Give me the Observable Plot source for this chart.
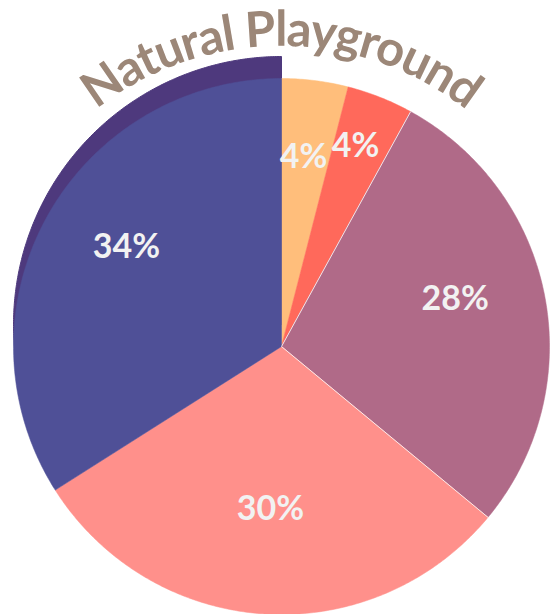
<!DOCTYPE html>
<html><head><meta charset="utf-8">
<script src="https://cdn.jsdelivr.net/npm/d3@7"></script>
<script src="https://cdn.jsdelivr.net/npm/@observablehq/plot@0.6"></script>
<style>html,body{margin:0;padding:0;background:#fff;} svg{display:block;}</style>
</head><body><div id="chart"></div>
<script>
const title = "Natural Playground";
const categories = ["Slice A", "Slice B", "Slice C", "Slice D", "Slice E"];
const values = [4, 4, 28, 30, 34];
const labels = ["4%", "4%", "28%", "30%", "34%"];
const colors = ["#ffbe7b", "#ff695b", "#b06a88", "#ff908b", "#4f5097"];
const shadowColor = "#4e397d";
const raisedCategory = "Slice E";

const W = 555, H = 614, cx = 281, cy = 346, R = 268;
const labelR = 0.66, labelPush = 0.09, titleR = 1.12;

const rows = categories.map((c, i) => ({name: c, value: values[i], label: labels[i], color: colors[i]}));
const arcs = d3.pie().sort(null).value(d => d.value)(rows);

function arcPoints(a0, a1) {
  const pts = [[0, 0]];
  const n = Math.max(2, Math.ceil((a1 - a0) / (Math.PI / 360)));
  for (let k = 0; k <= n; k++) {
    const t = a0 + (a1 - a0) * k / n;
    pts.push([Math.sin(t), Math.cos(t)]);
  }
  pts.push([0, 0]);
  return pts;
}

// label positions with simple collision push
const labelData = [];
arcs.forEach((a, i) => {
  const m = (a.startAngle + a.endAngle) / 2;
  let r = labelR;
  let p = [r * Math.sin(m), r * Math.cos(m)];
  const prev = labelData[labelData.length - 1];
  if (prev && Math.hypot(prev.x - p[0], prev.y - p[1]) < 0.2) {
    r = labelR + labelPush;
    p = [r * Math.sin(m), r * Math.cos(m)];
  }
  labelData.push({x: p[0], y: p[1], text: a.data.label});
});

const boundaries = arcs.map(a => ({x1: 0, y1: 0, x2: Math.sin(a.startAngle), y2: Math.cos(a.startAngle)}));

const raised = arcs.find(a => a.data.name === raisedCategory);
const marks = [];
marks.push(Plot.line(arcPoints(raised.startAngle, raised.endAngle), {
  x: d => d[0], y: d => d[1], fill: shadowColor, stroke: shadowColor, strokeWidth: 1, dy: -22
}));
arcs.forEach(a => {
  marks.push(Plot.line(arcPoints(a.startAngle, a.endAngle), {
    x: d => d[0], y: d => d[1], fill: a.data.color, stroke: a.data.color, strokeWidth: 0.5
  }));
});
marks.push(Plot.link(boundaries.filter((b, i) => i === 2 || i === 3), {
  x1: "x1", y1: "y1", x2: "x2", y2: "y2", stroke: "white", strokeWidth: 0.8
}));
marks.push(Plot.text(labelData, {
  x: "x", y: "y", text: "text", fill: "#f2f2f2", fontSize: 34, fontWeight: 700,
  fontFamily: "Lato, sans-serif", textAnchor: "middle", dy: -14
}));

const chart = Plot.plot({
  width: W, height: H,
  margin: 0,
  x: {domain: [-1, 1], range: [cx - R, cx + R], axis: null},
  y: {domain: [-1, 1], range: [cy + R, cy - R], axis: null},
  marks
});

const sx = chart.scale("x"), sy = chart.scale("y");
const pcx = sx.apply(0), pcy = sy.apply(0);
const tr = sx.apply(titleR) - pcx;
const half = Math.PI / 3;
const svg = d3.select(chart);
svg.append("defs").append("path")
  .attr("id", "titleArc")
  .attr("d", `M${pcx - tr * Math.sin(half)},${pcy - tr * Math.cos(half)} A${tr},${tr} 0 0 1 ${pcx + tr * Math.sin(half)},${pcy - tr * Math.cos(half)}`);
svg.append("text")
  .attr("font-family", "Lato, sans-serif")
  .attr("font-weight", 700)
  .attr("font-size", 49)
  .attr("letter-spacing", -1.3)
  .attr("fill", "#9c8778")
  .append("textPath")
  .attr("href", "#titleArc")
  .attr("startOffset", "50%")
  .attr("text-anchor", "middle")
  .text(title);

document.getElementById("chart").appendChild(chart);
</script>
</body></html>
